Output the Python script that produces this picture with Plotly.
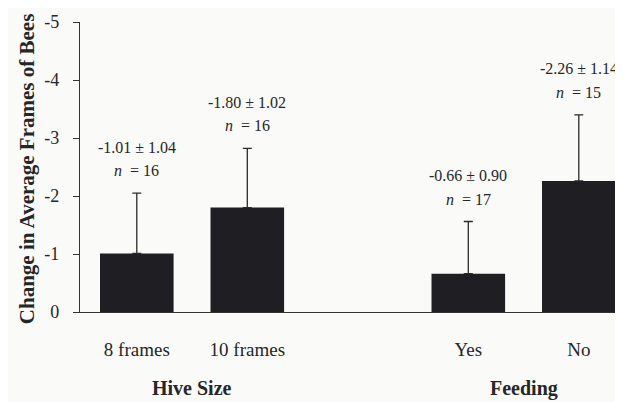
import plotly.graph_objects as go

categories = ["8 frames", "10 frames", "Yes", "No"]
positions = [0, 1, 3, 4]
means = [-1.01, -1.80, -0.66, -2.26]
errors = [1.04, 1.02, 0.90, 1.14]
n_values = [16, 16, 17, 15]
groups = ["Hive Size", "Feeding"]
group_members = [[0, 1], [2, 3]]
y_tick_vals = [0, -1, -2, -3, -4, -5]
y_tick_text = ["0", "-1", "-2", "-3", "-4", "-5"]

FONT = "Liberation Serif, Times New Roman, serif"
DARK = "#1f1f23"
TXT = "#262626"
BG = "#fafaf9"

fig = go.Figure()
fig.add_trace(go.Bar(
    x=positions, y=means, width=0.666,
    marker=dict(color=DARK, line=dict(width=0)),
    error_y=dict(type="data", symmetric=False, array=[0] * len(errors),
                 arrayminus=errors, color="#2a2a2a", thickness=1.3, width=4.5),
    showlegend=False,
))

annotations = []
for p, m, e, n in zip(positions, means, errors, n_values):
    top = m - e
    annotations.append(dict(x=p, y=top, xref="x", yref="y", text=f"{m:.2f} \u00b1 {e:.2f}",
                            showarrow=False, yanchor="middle", yshift=46,
                            font=dict(family=FONT, size=16, color=TXT)))
    annotations.append(dict(x=p, y=top, xref="x", yref="y", text=f"<i>n</i>  = {n}",
                            showarrow=False, yanchor="middle", yshift=22.5,
                            font=dict(family=FONT, size=16, color=TXT)))

for g, members in zip(groups, group_members):
    gx = sum(positions[i] for i in members) / len(members)
    annotations.append(dict(x=gx, y=-0.263, xref="x", yref="paper", text=f"<b>{g}</b>",
                            showarrow=False, yanchor="middle",
                            font=dict(family=FONT, size=20, color=TXT)))

annotations.append(dict(x=-0.0976, y=0.4926, xref="paper", yref="paper",
                        text="<b>Change in Average Frames of Bees</b>", textangle=-90,
                        showarrow=False, xanchor="center", yanchor="middle",
                        font=dict(family=FONT, size=21, color=TXT)))

fig.update_layout(
    width=615, height=394,
    margin=dict(l=72, r=0, t=14, b=90),
    paper_bgcolor=BG, plot_bgcolor=BG,
    annotations=annotations,
    font=dict(family=FONT, color=TXT),
)
fig.update_xaxes(range=[-0.514, 4.4], tickvals=positions, ticktext=categories,
                 showline=True, linecolor="#333333", linewidth=1.3, showgrid=False,
                 zeroline=False, ticks="", ticklabelstandoff=20,
                 tickfont=dict(family=FONT, size=19, color=TXT))
fig.update_yaxes(range=[0, -5], tickvals=y_tick_vals, ticktext=y_tick_text,
                 showline=True, linecolor="#333333", linewidth=1.3, showgrid=False,
                 zeroline=False, ticks="outside", ticklen=6, tickwidth=1.3, tickcolor="#333333",
                 ticklabelstandoff=10,
                 tickfont=dict(family=FONT, size=18, color=TXT))

fig.write_html("out.html")
